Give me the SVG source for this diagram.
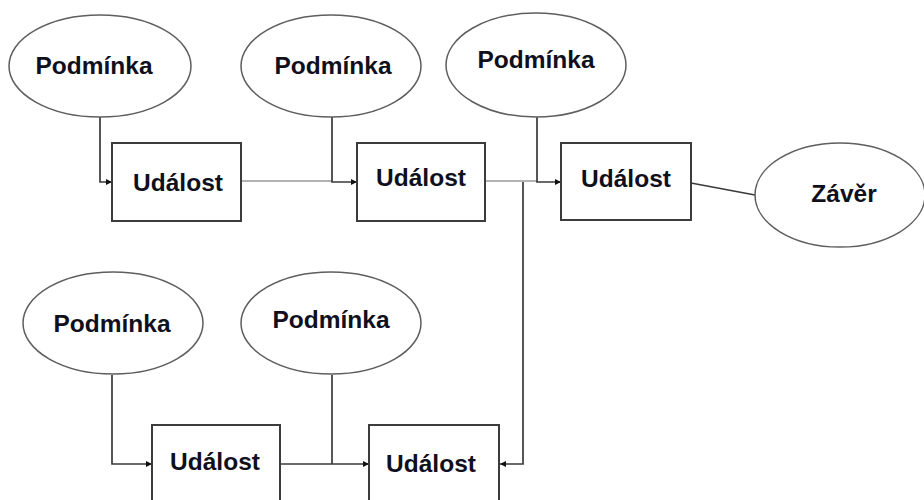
<svg xmlns="http://www.w3.org/2000/svg" width="924" height="500" viewBox="0 0 924 500">
  <style>
    .cond { fill: #fff; stroke: #5e5e5e; stroke-width: 1.5; }
    .event { fill: #fff; stroke: #3c3c3c; stroke-width: 2; }
    .lbl { font-family: "Liberation Sans", Arial, sans-serif; font-weight: bold; font-size: 24.5px; fill: #10101c; text-anchor: middle; }
    .wire { fill: none; stroke: #3a3a3a; stroke-width: 1.7; }
    .wire-light { fill: none; stroke: #9a9a9a; stroke-width: 1.7; }
  </style>
  <defs>
    <marker id="arrow" viewBox="0 0 8 8" refX="8" refY="4" markerWidth="6" markerHeight="6" markerUnits="userSpaceOnUse" orient="auto">
      <path d="M0,0 L8,4 L0,8 z" fill="#111"/>
    </marker>
  </defs>

  <rect width="924" height="500" fill="#fff"/>

  <!-- connectors -->
  <g id="connectors">
    <!-- top row -->
    <path class="wire" d="M100,117 V182 H112" marker-end="url(#arrow)"/>
    <path class="wire-light" d="M241,181 H332"/>
    <path class="wire" d="M332,117 V182 H357" marker-end="url(#arrow)"/>
    <path class="wire-light" d="M485,181 H537"/>
    <path class="wire" d="M537,117 V182 H561" marker-end="url(#arrow)"/>
    <path class="wire" d="M691,183 L755,195"/>
    <!-- bottom row -->
    <path class="wire" d="M112,375 V464 H152" marker-end="url(#arrow)"/>
    <path class="wire" d="M280,464 H369" marker-end="url(#arrow)"/>
    <path class="wire" d="M332,375 V464"/>
    <!-- feedback into the lower right event -->
    <path class="wire" d="M523,182 V464 H500" marker-end="url(#arrow)"/>
  </g>

  <!-- conditions -->
  <g id="cond1">
    <ellipse class="cond" cx="100" cy="66" rx="91" ry="51"/>
    <text class="lbl" x="94" y="74">Podmínka</text>
  </g>
  <g id="cond2">
    <ellipse class="cond" cx="331" cy="66" rx="90" ry="51"/>
    <text class="lbl" x="333" y="74">Podmínka</text>
  </g>
  <g id="cond3">
    <ellipse class="cond" cx="536" cy="65" rx="90" ry="52"/>
    <text class="lbl" x="536" y="68">Podmínka</text>
  </g>
  <g id="cond4">
    <ellipse class="cond" cx="113" cy="323" rx="90" ry="51"/>
    <text class="lbl" x="112" y="332">Podmínka</text>
  </g>
  <g id="cond5">
    <ellipse class="cond" cx="331" cy="323" rx="90" ry="51"/>
    <text class="lbl" x="331" y="328">Podmínka</text>
  </g>

  <!-- events -->
  <g id="event1">
    <rect class="event" x="112" y="143" width="129" height="78"/>
    <text class="lbl" x="178" y="191">Událost</text>
  </g>
  <g id="event2">
    <rect class="event" x="357" y="143" width="128" height="78"/>
    <text class="lbl" x="421" y="186">Událost</text>
  </g>
  <g id="event3">
    <rect class="event" x="561" y="143" width="130" height="77"/>
    <text class="lbl" x="626" y="187">Událost</text>
  </g>
  <g id="event4">
    <rect class="event" x="152" y="425" width="128" height="90"/>
    <text class="lbl" x="215" y="470">Událost</text>
  </g>
  <g id="event5">
    <rect class="event" x="369" y="425" width="130" height="90"/>
    <text class="lbl" x="431" y="472">Událost</text>
  </g>

  <!-- conclusion -->
  <g id="conclusion">
    <ellipse class="cond" cx="840" cy="195" rx="85" ry="52"/>
    <text class="lbl" x="844" y="202">Závěr</text>
  </g>
</svg>
